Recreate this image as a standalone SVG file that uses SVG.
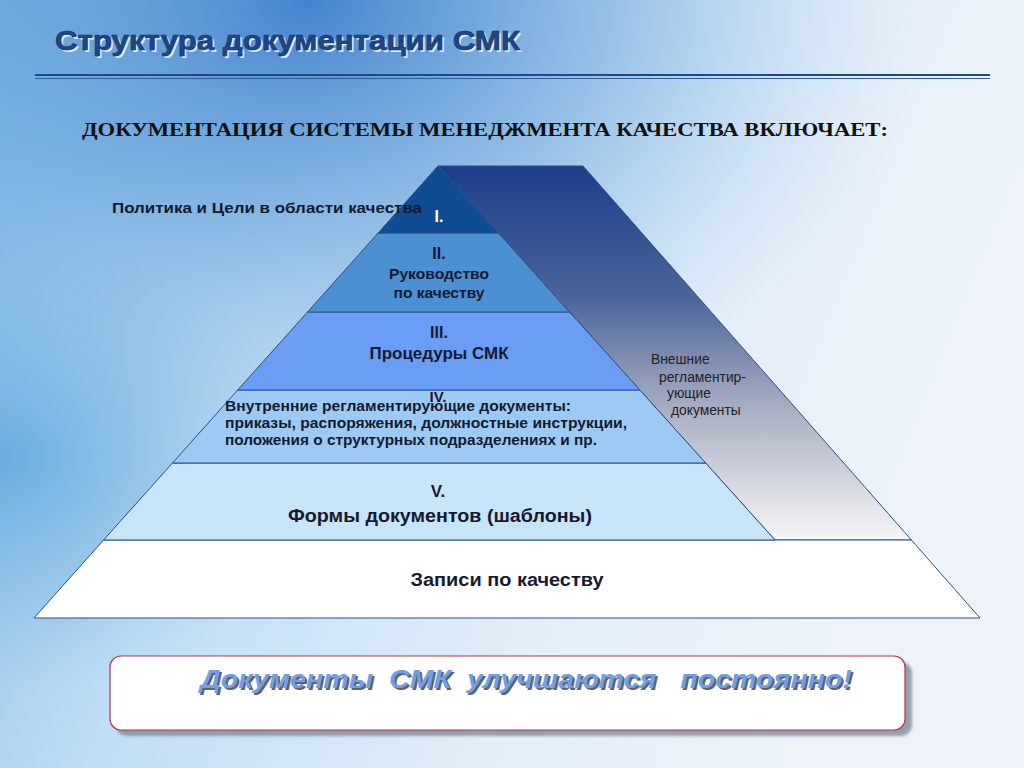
<svg xmlns="http://www.w3.org/2000/svg" width="1024" height="768" viewBox="0 0 1024 768">
<defs>
<linearGradient id="bgBase" x1="0" y1="0" x2="1" y2="0.3">
<stop offset="0" stop-color="#7DB6E2"/>
<stop offset="0.35" stop-color="#BFDDF4"/>
<stop offset="0.7" stop-color="#E2EEF9"/>
<stop offset="1" stop-color="#EEF3F9"/>
</linearGradient>
<radialGradient id="bgTop" cx="0.3" cy="0" r="0.6" gradientUnits="objectBoundingBox">
<stop offset="0" stop-color="#3F7FCB" stop-opacity="0.95"/>
<stop offset="0.5" stop-color="#5C9BD8" stop-opacity="0.5"/>
<stop offset="1" stop-color="#8EC0E8" stop-opacity="0"/>
</radialGradient>
<radialGradient id="bgLeft" cx="0" cy="0.6" r="0.3">
<stop offset="0" stop-color="#5EA6DB" stop-opacity="0.8"/>
<stop offset="1" stop-color="#7DB6E2" stop-opacity="0"/>
</radialGradient>
<linearGradient id="band" x1="0" y1="166" x2="0" y2="540" gradientUnits="userSpaceOnUse">
<stop offset="0" stop-color="#1C3E8C"/>
<stop offset="0.35" stop-color="#4C6499"/>
<stop offset="0.65" stop-color="#A9AFC2"/>
<stop offset="1" stop-color="#F6F6F6"/>
</linearGradient>
<filter id="shadowBlur" x="-5%" y="-20%" width="110%" height="140%">
<feGaussianBlur stdDeviation="1.5"/>
</filter>
</defs>
<style>
.tier{stroke:#2C4F85;stroke-width:1}
.lbl{font-family:"Liberation Sans",Arial,sans-serif;font-weight:bold;fill:#151A30;text-anchor:middle}
.side{font-family:"Liberation Sans",Arial,sans-serif;font-size:13.8px;fill:#222}
.inner{font-family:"Liberation Sans",Arial,sans-serif;font-weight:bold;font-size:14.5px;fill:#151A30}
</style>

<g id="background">
<rect width="1024" height="768" fill="url(#bgBase)"/>
<rect width="1024" height="768" fill="url(#bgTop)"/>
<rect width="1024" height="768" fill="url(#bgLeft)"/>
</g>

<g id="title">
<text x="57" y="52" font-family="'Liberation Sans',Arial,sans-serif" font-weight="bold" font-size="27" fill="#DCEBF8" textLength="465" lengthAdjust="spacingAndGlyphs">Структура документации СМК</text>
<text x="55" y="50" font-family="'Liberation Sans',Arial,sans-serif" font-weight="bold" font-size="27" fill="#1E4785" stroke="#143366" stroke-width="0.6" textLength="465" lengthAdjust="spacingAndGlyphs">Структура документации СМК</text>
<line x1="35" y1="75" x2="990" y2="75" stroke="#1F4A8A" stroke-width="2"/>
<line x1="35" y1="78.5" x2="990" y2="78.5" stroke="#2E5E9E" stroke-width="1.2"/>
</g>

<g id="subtitle">
<text x="82" y="136" font-family="'Liberation Serif','Times New Roman',serif" font-weight="bold" font-size="19" fill="#111" textLength="806" lengthAdjust="spacingAndGlyphs">ДОКУМЕНТАЦИЯ СИСТЕМЫ МЕНЕДЖМЕНТА КАЧЕСТВА ВКЛЮЧАЕТ:</text>
</g>

<g id="external-band">
<polygon points="438,166 583,166 911.4,540 775,540" fill="url(#band)" stroke="#2C4F85" stroke-width="1"/>
</g>

<g id="tier-records">
<polygon class="tier" points="103.6,540 911.4,540 980,618 34,618" fill="#FFFFFF"/>
<text class="lbl" x="507" y="586" font-size="17.5" textLength="193" lengthAdjust="spacingAndGlyphs">Записи по качеству</text>
</g>

<g id="tier-5">
<polygon class="tier" points="172.5,463 705.6,463 775,540 103.6,540" fill="#C7E4F8"/>
<text class="lbl" x="438" y="497" font-size="17">V.</text>
<text class="lbl" x="440" y="522" font-size="18" textLength="304" lengthAdjust="spacingAndGlyphs">Формы документов (шаблоны)</text>
</g>

<g id="tier-4">
<polygon class="tier" points="237.7,390 639.8,390 705.6,463 172.5,463" fill="#9DCAF5"/>
<text class="lbl" x="438" y="402" font-size="15">IV.</text>
<text class="inner" x="225" y="411" textLength="346" lengthAdjust="spacingAndGlyphs">Внутренние регламентирующие документы:</text>
<text class="inner" x="225" y="428" textLength="402" lengthAdjust="spacingAndGlyphs">приказы, распоряжения, должностные инструкции,</text>
<text class="inner" x="225" y="445" textLength="372" lengthAdjust="spacingAndGlyphs">положения о структурных подразделениях и пр.</text>
</g>

<g id="tier-3">
<polygon class="tier" points="307.5,312 569.5,312 639.8,390 237.7,390" fill="#6A9DF5"/>
<text class="lbl" x="439" y="338" font-size="16">III.</text>
<text class="lbl" x="439" y="359" font-size="16.5" textLength="139" lengthAdjust="spacingAndGlyphs">Процедуры СМК</text>
</g>

<g id="tier-2">
<polygon class="tier" points="378.1,233 498.4,233 569.5,312 307.5,312" fill="#4A90D2"/>
<text class="lbl" x="439" y="259" font-size="16">II.</text>
<text class="lbl" x="439" y="279" font-size="15.5" textLength="100" lengthAdjust="spacingAndGlyphs">Руководство</text>
<text class="lbl" x="439" y="298" font-size="15.5" textLength="91" lengthAdjust="spacingAndGlyphs">по качеству</text>
</g>

<g id="tier-1">
<polygon class="tier" points="438,166 498.4,233 378.1,233" fill="#0F4C94"/>
<text x="439" y="222" font-family="'Liberation Sans',Arial,sans-serif" font-weight="bold" font-size="16" fill="#FFFFFF" text-anchor="middle">I.</text>
</g>

<g id="label-policy">
<text x="112" y="213" font-family="'Liberation Sans',Arial,sans-serif" font-weight="bold" font-size="14.5" fill="#151A30" textLength="310" lengthAdjust="spacingAndGlyphs">Политика и Цели в области качества</text>
</g>

<g id="label-external">
<text class="side" x="651" y="364">Внешние</text>
<text class="side" x="659" y="382">регламентир-</text>
<text class="side" x="667" y="398">ующие</text>
<text class="side" x="671" y="415">документы</text>
</g>

<g id="note-box">
<rect x="116" y="662" width="796" height="74" rx="11" fill="#7E8A9A" opacity="0.8" filter="url(#shadowBlur)"/>
<rect x="110" y="656" width="795" height="74" rx="11" fill="#FFFFFF" stroke="#B23A4A" stroke-width="1.2"/>
<text x="202" y="690" xml:space="preserve" font-family="'Liberation Sans',Arial,sans-serif" font-weight="bold" font-style="italic" font-size="25" fill="#5D6470" textLength="652" lengthAdjust="spacingAndGlyphs">Документы  СМК  улучшаются   постоянно!</text>
<text x="200" y="688" xml:space="preserve" font-family="'Liberation Sans',Arial,sans-serif" font-weight="bold" font-style="italic" font-size="25" fill="#729FE4" textLength="652" lengthAdjust="spacingAndGlyphs">Документы  СМК  улучшаются   постоянно!</text>
</g>
</svg>
